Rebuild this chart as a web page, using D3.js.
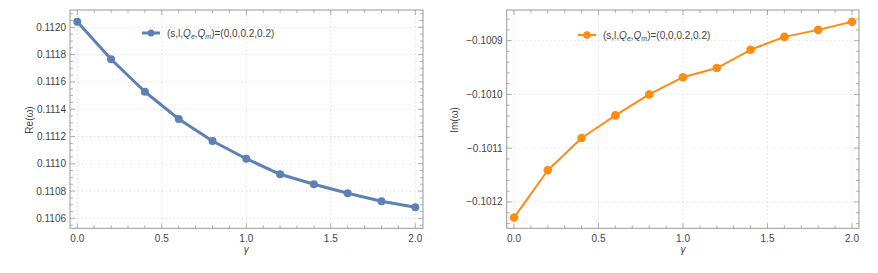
<!DOCTYPE html>
<html>
<head>
<meta charset="utf-8">
<script src="https://cdn.jsdelivr.net/npm/d3@7"></script>
<style>
  body { margin: 0; background: #fff; }
  svg { display: block; }
  text { font-family: "Liberation Sans", Arial, sans-serif; fill: #444; }
</style>
</head>
<body>
<svg id="chart" width="878" height="273"></svg>
<script>
// data
var gamma = [0, 0.2, 0.4, 0.6, 0.8, 1.0, 1.2, 1.4, 1.6, 1.8, 2.0]
var reOmega = [0.112041, 0.111766, 0.111528, 0.111328, 0.111167, 0.111037,
               0.110923, 0.110850, 0.110784, 0.110725, 0.110681]
var imOmega = [-0.101229, -0.101141, -0.101081, -0.101039, -0.101000, -0.100968,
               -0.100951, -0.100917, -0.100893, -0.100880, -0.100865]
var xTicks = [0, 0.5, 1.0, 1.5, 2.0]
var reTicks = [0.1106, 0.1108, 0.1110, 0.1112, 0.1114, 0.1116, 0.1118, 0.1120]
var imTicks = [-0.1012, -0.1011, -0.1010, -0.1009]
var legendLabel = ["(s,l,", "Q", "e", ",", "Q", "m", ")=(0,0,0.2,0.2)"]

var svg = d3.select("#chart")

function draw_panel(opt) {
  var g = svg.append("g")
  var L = opt.frame[0], R = opt.frame[1], T = 10, B = 228.3

  var x = d3.scaleLinear().domain([0, 2]).range(opt.xr)
  var y = d3.scaleLinear().domain(opt.ydom).range([B, T])

  // grid
  g.append("g").selectAll("line").data(xTicks).enter().append("line")
    .attr("x1", d => x(d)).attr("x2", d => x(d)).attr("y1", T).attr("y2", B)
    .attr("stroke", "#ccc").attr("stroke-width", 0.8).attr("stroke-dasharray", "1,3")
  g.append("g").selectAll("line").data(opt.yTicks).enter().append("line")
    .attr("y1", d => y(d)).attr("y2", d => y(d)).attr("x1", L).attr("x2", R)
    .attr("stroke", "#ccc").attr("stroke-width", 0.8).attr("stroke-dasharray", "1,3")

  // frame
  g.append("rect").attr("x", L).attr("y", T).attr("width", R - L).attr("height", B - T)
    .attr("fill", "none").attr("stroke", "#999").attr("stroke-width", 1)

  // ticks (major + minor) on every side, pointing inwards
  var xMinor = d3.range(0, 2.0001, 0.1)
  var yMinor = d3.range(opt.ydom[0], opt.ydom[1], opt.minorStep)
    .map(v => Math.ceil(v / opt.minorStep - 1e-6) * opt.minorStep)
    .filter(v => v >= opt.ydom[0] && v <= opt.ydom[1])
  var isMajorX = v => xTicks.some(t => Math.abs(t - v) < 1e-9)
  var isMajorY = v => opt.yTicks.some(t => Math.abs(t - v) < 1e-9)
  var tk = g.append("g").attr("stroke", "#999").attr("stroke-width", 0.8)
  xMinor.forEach(function (v) {
    var len = isMajorX(v) ? 5 : 3
    tk.append("line").attr("x1", x(v)).attr("x2", x(v)).attr("y1", B).attr("y2", B - len)
    tk.append("line").attr("x1", x(v)).attr("x2", x(v)).attr("y1", T).attr("y2", T + len)
  })
  yMinor.forEach(function (v) {
    var len = isMajorY(v) ? 5 : 3
    tk.append("line").attr("y1", y(v)).attr("y2", y(v)).attr("x1", L).attr("x2", L + len)
    tk.append("line").attr("y1", y(v)).attr("y2", y(v)).attr("x1", R).attr("x2", R - len)
  })

  // tick labels
  g.append("g").selectAll("text").data(xTicks).enter().append("text")
    .attr("x", d => x(d)).attr("y", B + 14).attr("text-anchor", "middle")
    .attr("font-size", 10).text(d => d.toFixed(1))
  g.append("g").selectAll("text").data(opt.yTicks).enter().append("text")
    .attr("x", L - 4).attr("y", d => y(d) + 3.5).attr("text-anchor", "end")
    .attr("font-size", 10).text(d => d3.format(".4f")(d).replace("-", "\u2212"))

  // axis labels
  g.append("text").attr("x", (opt.xr[0] + opt.xr[1]) / 2).attr("y", 253)
    .attr("text-anchor", "middle").attr("font-size", 10).attr("font-style", "italic").text("\u03b3")
  g.append("text").attr("transform", "translate(" + opt.ylabX + "," + 120 + ") rotate(-90)")
    .attr("text-anchor", "middle").attr("font-size", 10).text(opt.ylab)

  // series
  var pts = gamma.map((gv, i) => [gv, opt.values[i]])
  g.append("path").datum(pts)
    .attr("fill", "none").attr("stroke", opt.color).attr("stroke-width", opt.lw)
    .attr("stroke-linejoin", "round")
    .attr("d", d3.line().x(d => x(d[0])).y(d => y(d[1])))
  g.append("g").selectAll("circle").data(pts).enter().append("circle")
    .attr("cx", d => x(d[0])).attr("cy", d => y(d[1])).attr("r", opt.r)
    .attr("fill", opt.color)

  // legend
  var lx = opt.legend[0], ly = opt.legend[1]
  g.append("line").attr("x1", lx).attr("x2", lx + 18).attr("y1", ly).attr("y2", ly)
    .attr("stroke", opt.color).attr("stroke-width", opt.lw)
  g.append("circle").attr("cx", lx + 9).attr("cy", ly).attr("r", opt.r - 0.5).attr("fill", opt.color)
  var t = g.append("text").attr("x", lx + 25).attr("y", ly + 3.5).attr("font-size", 10)
  legendLabel.forEach(function (s, i) {
    var ts = t.append("tspan").text(s)
    if (s === "Q") ts.attr("font-style", "italic")
    if (s === "e" || s === "m") ts.attr("font-size", 7).attr("dy", 2).attr("font-style", "italic")
    if (i > 0 && (legendLabel[i - 1] === "e" || legendLabel[i - 1] === "m")) ts.attr("dy", -2)
  })
}

draw_panel({
  frame: [70, 423], xr: [77.3, 415.3], ydom: [0.110527, 0.112127],
  yTicks: reTicks, minorStep: 0.00005, values: reOmega,
  color: "#5e81b5", lw: 3, r: 4, ylab: "Re(\u03c9)", ylabX: 33, legend: [142, 33]
})
draw_panel({
  frame: [506.7, 859], xr: [514, 852], ydom: [-0.101249, -0.100843],
  yTicks: imTicks, minorStep: 0.00002, values: imOmega,
  color: "#ff8c12", lw: 2, r: 4.3, ylab: "Im(\u03c9)", ylabX: 458, legend: [578, 35]
})
</script>
</body>
</html>
